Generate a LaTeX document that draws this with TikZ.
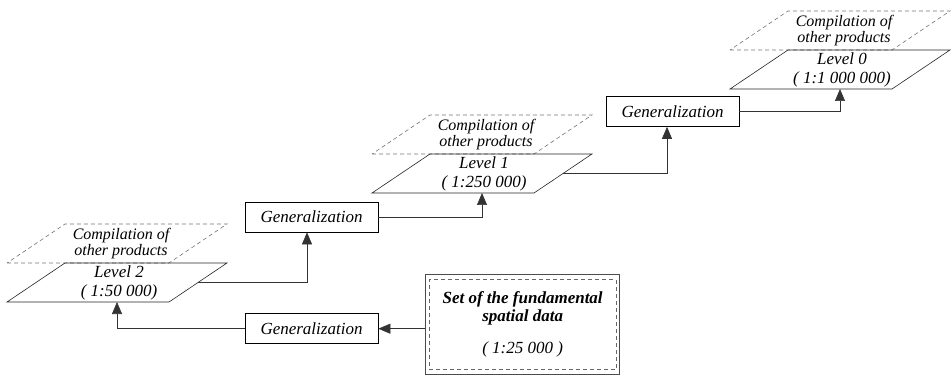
\documentclass[tikz,border=0pt]{standalone}
\usepackage{fontspec}
\setmainfont{Liberation Serif}
\usetikzlibrary{arrows.meta,calc,positioning}

\tikzset{
  sheet/.style={draw=black!85,line width=0.6pt},
  othersheet/.style={draw=black!55,dash pattern=on 4pt off 3pt,line width=0.6pt},
  gen/.style={draw=black,line width=0.7pt,minimum width=133pt,minimum height=30pt,inner sep=0pt,font=\fontsize{17}{19}\selectfont\itshape},
  link/.style={draw=black!80,line width=0.6pt,-{Triangle[length=12pt,width=10pt]}},
}

\begin{document}
\begin{tikzpicture}[x=1pt,y=-1pt]
\useasboundingbox (0,0) rectangle (951,382);

% levels, each one with the dashed sheet of other products above it
\foreach \nm/\x/\y/\lv/\sc in {lvtwo/7/302/2/1:50 000,lvone/372/193/1/1:250 000,lvzero/730/89/0/1:1 000 000} {
  \draw [othersheet] (\x,\y-39) -- ++(162,0) -- ++(58,-39) -- ++(-162,0) -- cycle;
  \draw [sheet] (\x,\y) -- ++(162,0) -- ++(58,-39) -- ++(-162,0) -- cycle;
  \node [align=center,font=\fontsize{17}{19}\selectfont\itshape] (\nm) at (\x+112,\y-19.5) {Level \lv\\( \sc )};
  \node [align=center,font=\fontsize{16}{12.5}\selectfont\itshape] (\nm-other) at (\x+114,\y-58.5) {Compilation of\\other products};
  \coordinate (\nm-in) at (\x+110,\y);
  \coordinate (\nm-out) at (\x+191,\y-19.5);
}

\node [gen] (genmid) at (311.5,217) {Generalization};
\node [gen,below=81pt of genmid] (genlow) {Generalization};
\node [gen] (gentop) at (672.5,111.5) {Generalization};

% fundamental data set
\node [draw=black!70,line width=0.6pt,minimum width=194pt,minimum height=100pt,right=47pt of genlow,yshift=4pt] (fund) {};
\node [draw=black!60,dash pattern=on 4pt off 3pt,line width=0.6pt,minimum width=187pt,minimum height=90pt,align=center,font=\fontsize{17}{18}\selectfont\itshape] (fundin) at (fund) {\textbf{Set of the fundamental}\\\textbf{spatial data}\\[14pt]( 1:25 000 )};

\draw [link] (lvtwo-out) -| ([xshift=-4.5pt]genmid.south);
\draw [link] (genmid.east) -| (lvone-in);
\draw [link] (lvone-out) -| ([xshift=-5.5pt]gentop.south);
\draw [link] (gentop.east) -| (lvzero-in);
\draw [link] (fund.west |- genlow.east) -- (genlow.east);
\draw [link] (genlow.west) -| (lvtwo-in);
\end{tikzpicture}
\end{document}
